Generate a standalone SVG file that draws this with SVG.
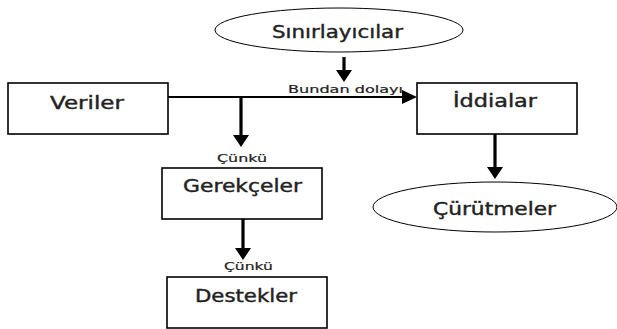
<svg xmlns="http://www.w3.org/2000/svg" width="617" height="329" viewBox="0 0 617 329">
<style>
.box{fill:#fff;stroke:#000;stroke-width:1.6}
.ell{fill:#fff;stroke:#000;stroke-width:1}
.lbl{font-family:"DejaVu Sans",sans-serif;font-size:17px;fill:#222;stroke:#222;stroke-width:0.4}
.sm{font-family:"DejaVu Sans",sans-serif;font-size:11px;fill:#222;stroke:#222;stroke-width:0.2}
.ln{stroke:#000;stroke-width:2;fill:none}
.thk{stroke:#000;stroke-width:3.2;fill:none}
.hd{fill:#000}
</style>
<rect width="617" height="329" fill="#fff"/>
<g id="connectors">
<line class="ln" x1="168" y1="97" x2="404" y2="97"/>
<polygon class="hd" points="402,90 417,97 402,104"/>
<line class="thk" x1="241" y1="97" x2="241" y2="136"/>
<polygon class="hd" points="233,135 249,135 241,147"/>
<line class="thk" x1="344" y1="57" x2="344" y2="71"/>
<polygon class="hd" points="336,70 352,70 344,82"/>
<line class="thk" x1="243" y1="219" x2="243" y2="249"/>
<polygon class="hd" points="235,248 251,248 243,260"/>
<line class="thk" x1="495" y1="134" x2="495" y2="168"/>
<polygon class="hd" points="487,167 503,167 495,179"/>
<text class="sm" x="288" y="93" textLength="115" lengthAdjust="spacingAndGlyphs">Bundan dolayı</text>
<text class="sm" x="217" y="162" textLength="50" lengthAdjust="spacingAndGlyphs">Çünkü</text>
<text class="sm" x="224" y="270" textLength="49" lengthAdjust="spacingAndGlyphs">Çünkü</text>
</g>
<g id="siniriayicilar">
<ellipse class="ell" cx="339" cy="30" rx="124" ry="22"/>
<text class="lbl" x="272" y="38" textLength="131" lengthAdjust="spacingAndGlyphs">Sınırlayıcılar</text>
</g>
<g id="veriler">
<rect class="box" x="8" y="83" width="160" height="51"/>
<text class="lbl" x="50" y="109" textLength="74" lengthAdjust="spacingAndGlyphs">Veriler</text>
</g>
<g id="iddialar">
<rect class="box" x="417" y="83" width="160" height="51"/>
<text class="lbl" x="453" y="107" textLength="84" lengthAdjust="spacingAndGlyphs">İddialar</text>
</g>
<g id="gerekceler">
<rect class="box" x="162" y="168" width="160" height="51"/>
<text class="lbl" x="183" y="192" textLength="119" lengthAdjust="spacingAndGlyphs">Gerekçeler</text>
</g>
<g id="destekler">
<rect class="box" x="167" y="277" width="160" height="51"/>
<text class="lbl" x="195" y="302" textLength="102" lengthAdjust="spacingAndGlyphs">Destekler</text>
</g>
<g id="curutmeler">
<ellipse class="ell" cx="495" cy="207" rx="122" ry="25"/>
<text class="lbl" x="433" y="215" textLength="123" lengthAdjust="spacingAndGlyphs">Çürütmeler</text>
</g>
</svg>
